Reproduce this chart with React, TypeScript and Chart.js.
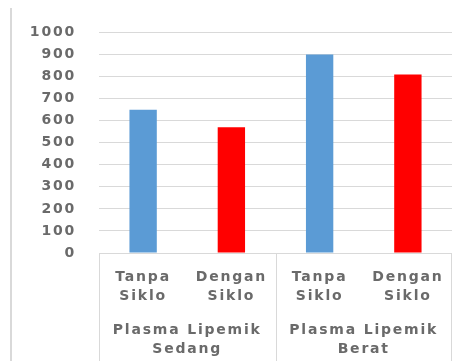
import { useEffect, useRef } from "react";
import { Chart, registerables } from "chart.js";

Chart.register(...registerables);

const categories: string[][] = [
  ["Tanpa", "Siklo"],
  ["Dengan", "Siklo"],
  ["Tanpa", "Siklo"],
  ["Dengan", "Siklo"],
];
const groups: string[][] = [
  ["Plasma Lipemik", "Sedang"],
  ["Plasma Lipemik", "Berat"],
];
const values: number[] = [650, 570, 900, 810];
const barColors: string[] = ["#5B9BD5", "#FF0000", "#5B9BD5", "#FF0000"];
const yMin = 0;
const yMax = 1000;
const yStep = 100;

const TEXT = "#6a6a6a";
const GRID = "#d9d9d9";
const SPACING = "1.8px";
const FONT = { family: "'DejaVu Sans', sans-serif", size: 14, weight: "bold" as const, lineHeight: 1.36 };

const decor = {
  id: "decor",
  beforeUpdate(chart: any) {
    chart.ctx.letterSpacing = SPACING;
  },
  beforeDraw(chart: any) {
    const ctx = chart.ctx;
    ctx.letterSpacing = SPACING;
    ctx.save();
    ctx.strokeStyle = GRID;
    ctx.lineWidth = 2;
    ctx.beginPath();
    ctx.moveTo(11, 8);
    ctx.lineTo(11, chart.height);
    ctx.stroke();
    ctx.restore();
  },
  afterDraw(chart: any) {
    const ctx = chart.ctx;
    const area = chart.chartArea;
    const x = chart.scales.x;
    const mid = (x.getPixelForValue(1) + x.getPixelForValue(2)) / 2;
    ctx.save();
    ctx.strokeStyle = GRID;
    ctx.lineWidth = 1;
    ctx.beginPath();
    for (const px of [Math.round(area.left) + 0.5, Math.round(mid) + 0.5, Math.round(area.right) - 0.5]) {
      ctx.moveTo(px, area.bottom);
      ctx.lineTo(px, chart.height);
    }
    ctx.stroke();
    ctx.restore();
  },
};

export default function App() {
  const ref = useRef<HTMLCanvasElement>(null);
  useEffect(() => {
    document.body.style.margin = "0";
    const chart = new Chart(ref.current!, {
      type: "bar",
      data: {
        labels: categories as any,
        datasets: [
          {
            data: values,
            backgroundColor: barColors,
            borderWidth: 0,
            barPercentage: 0.31,
            categoryPercentage: 1,
          },
        ],
      },
      options: {
        responsive: false,
        animation: false,
        devicePixelRatio: 1,
        layout: { padding: { top: 29, right: 16, bottom: 0, left: 0 } },
        plugins: { legend: { display: false }, tooltip: { enabled: false } },
        scales: {
          x: {
            type: "category",
            position: "bottom",
            grid: { display: false },
            border: { display: false },
            ticks: { color: TEXT, font: FONT, padding: 7, maxRotation: 0, autoSkip: false },
            afterFit: (s: any) => {
              s.height = 60;
            },
          },
          x2: {
            type: "category",
            position: "bottom",
            labels: groups as any,
            grid: { display: false },
            border: { display: false },
            ticks: { color: TEXT, font: FONT, padding: 0, maxRotation: 0, autoSkip: false },
            afterFit: (s: any) => {
              s.height = 48;
            },
          },
          y: {
            min: yMin,
            max: yMax,
            ticks: {
              stepSize: yStep,
              color: TEXT,
              font: FONT,
              padding: 23,
              callback: (v: any) => String(v),
            },
            grid: { color: GRID, drawTicks: false, lineWidth: 1 },
            border: { display: false },
            afterFit: (s: any) => {
              s.width = 99;
            },
          },
        },
      },
      plugins: [decor],
    });
    return () => chart.destroy();
  }, []);
  return (
    <div style={{ width: 468, height: 361, background: "#fff" }}>
      <canvas ref={ref} width={468} height={361} />
    </div>
  );
}
